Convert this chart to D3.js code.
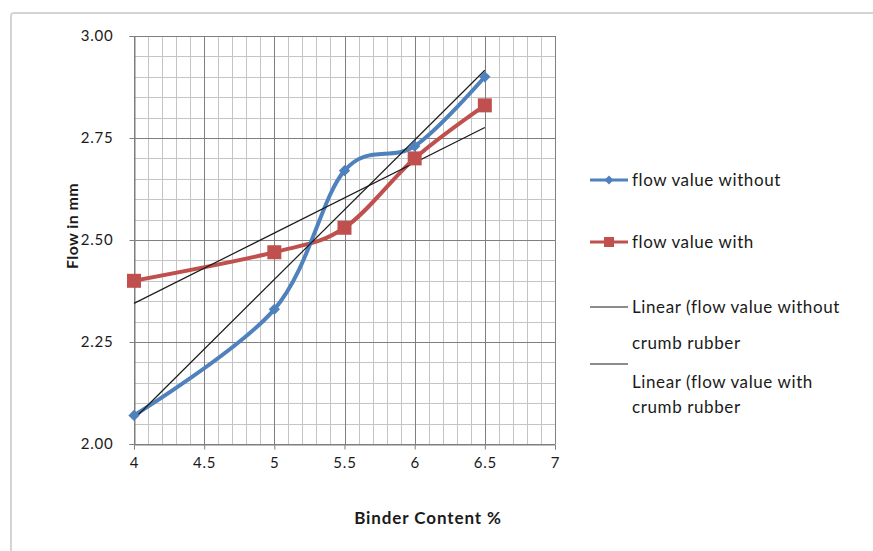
<!DOCTYPE html>
<html>
<head>
<meta charset="utf-8">
<script src="https://cdn.jsdelivr.net/npm/d3@7"></script>
<style>
  html, body { margin: 0; padding: 0; background: #fff; }
  svg text { font-family: Lato, "Open Sans", sans-serif; fill: #1a1a1a; }
</style>
</head>
<body>
<svg id="chart" width="873" height="551"></svg>
<script>
// Binder content (%) and measured flow (mm)
const binderContent = [4, 5, 5.5, 6, 6.5];
const flowWithout = [2.07, 2.33, 2.67, 2.73, 2.90];
const flowWith = [2.40, 2.47, 2.53, 2.70, 2.83];

const xTickValues = [4, 4.5, 5, 5.5, 6, 6.5, 7];
const xTickLabels = ["4", "4.5", "5", "5.5", "6", "6.5", "7"];
const yTickValues = [2.00, 2.25, 2.50, 2.75, 3.00];
const yTickLabels = ["2.00", "2.25", "2.50", "2.75", "3.00"];

const seriesNames = ["flow value without", "flow value with"];
const trendNames = ["Linear (flow value without", "Linear (flow value with"];
const trendSecondLine = "crumb rubber";

const svg = d3.select("#chart");

// chart frame
svg.append("rect")
  .attr("x", 11).attr("y", 13).attr("width", 900).attr("height", 600)
  .attr("rx", 3)
  .attr("fill", "#fff").attr("stroke", "#d4d4d4").attr("stroke-width", 2);

const plot = { left: 134, right: 555, top: 36, bottom: 444 };
const x = d3.scaleLinear().domain([4, 7]).range([plot.left, plot.right]);
const y = d3.scaleLinear().domain([2, 3]).range([plot.bottom, plot.top]);

// minor grid
const g = svg.append("g");
const minorX = d3.range(4, 7.0001, 0.1).map(v => +v.toFixed(2));
const minorY = d3.range(2, 3.0001, 0.05).map(v => +v.toFixed(2));
g.selectAll(".mx").data(minorX).join("line")
  .attr("x1", d => Math.round(x(d)) + 0.5).attr("x2", d => Math.round(x(d)) + 0.5)
  .attr("y1", plot.top).attr("y2", plot.bottom)
  .attr("stroke", "#c4c4c4").attr("stroke-width", 1);
g.selectAll(".my").data(minorY).join("line")
  .attr("y1", d => Math.round(y(d)) + 0.5).attr("y2", d => Math.round(y(d)) + 0.5)
  .attr("x1", plot.left).attr("x2", plot.right)
  .attr("stroke", "#c4c4c4").attr("stroke-width", 1);

// major grid
g.selectAll(".Mx").data(xTickValues).join("line")
  .attr("x1", d => Math.round(x(d)) + 0.5).attr("x2", d => Math.round(x(d)) + 0.5)
  .attr("y1", plot.top).attr("y2", plot.bottom)
  .attr("stroke", "#7f7f7f").attr("stroke-width", 1);
g.selectAll(".My").data(yTickValues).join("line")
  .attr("y1", d => Math.round(y(d)) + 0.5).attr("y2", d => Math.round(y(d)) + 0.5)
  .attr("x1", plot.left).attr("x2", plot.right)
  .attr("stroke", "#7f7f7f").attr("stroke-width", 1);

// axes
const xAxis = d3.axisBottom(x).tickValues(xTickValues)
  .tickFormat((d, i) => xTickLabels[i]).tickSize(5).tickPadding(8);
const yAxis = d3.axisLeft(y).tickValues(yTickValues)
  .tickFormat((d, i) => yTickLabels[i]).tickSize(5).tickPadding(16);

const xa = svg.append("g").attr("transform", `translate(0,${plot.bottom + 0.5})`).call(xAxis);
const ya = svg.append("g").attr("transform", `translate(${plot.left + 0.5},0)`).call(yAxis);
[xa, ya].forEach(a => {
  a.select(".domain").attr("stroke", "#7f7f7f");
  a.selectAll(".tick line").attr("stroke", "#7f7f7f");
  a.selectAll(".tick text").style("font-size", "15px").style("letter-spacing", "0.8px")
    .attr("fill", "#1a1a1a");
});

// axis titles
svg.append("text")
  .attr("x", 428).attr("y", 524)
  .attr("text-anchor", "middle").style("font-size", "17px").style("font-weight", "bold")
  .style("letter-spacing", "0.9px")
  .text("Binder Content %");
svg.append("text")
  .attr("transform", "translate(78,226) rotate(-90)")
  .attr("text-anchor", "middle").style("font-size", "16px").style("font-weight", "bold")
  .style("letter-spacing", "0.4px")
  .text("Flow in mm");

// least-squares trend
function linearFit(xs, ys) {
  const mx = d3.mean(xs), my = d3.mean(ys);
  const sxy = d3.sum(xs, (v, i) => (v - mx) * (ys[i] - my));
  const sxx = d3.sum(xs, v => (v - mx) * (v - mx));
  const b = sxy / sxx;
  return v => my + b * (v - mx);
}

const blue = "#4f81bd", red = "#c0504d";
const pts = vals => binderContent.map((b, i) => [b, vals[i]]);
const smooth = d3.line().x(d => x(d[0])).y(d => y(d[1])).curve(d3.curveCardinal.tension(0));
const straight = d3.line().x(d => x(d[0])).y(d => y(d[1]));

// data series
svg.append("path").datum(pts(flowWith)).attr("d", smooth)
  .attr("fill", "none").attr("stroke", red).attr("stroke-width", 4);
svg.append("path").datum(pts(flowWithout)).attr("d", smooth)
  .attr("fill", "none").attr("stroke", blue).attr("stroke-width", 4);

// trendlines
[flowWithout, flowWith].forEach(vals => {
  const f = linearFit(binderContent, vals);
  const x0 = d3.min(binderContent), x1 = d3.max(binderContent);
  svg.append("path").datum([[x0, f(x0)], [x1, f(x1)]]).attr("d", straight)
    .attr("fill", "none").attr("stroke", "#1a1a1a").attr("stroke-width", 1.2);
});

// markers
svg.selectAll(".sq").data(pts(flowWith)).join("rect")
  .attr("x", d => x(d[0]) - 7).attr("y", d => y(d[1]) - 7)
  .attr("width", 14).attr("height", 14).attr("fill", red);
svg.selectAll(".dm").data(pts(flowWithout)).join("path")
  .attr("transform", d => `translate(${x(d[0])},${y(d[1])}) rotate(45)`)
  .attr("d", d3.symbol().type(d3.symbolSquare).size(64)).attr("fill", blue);

// legend
const lg = svg.append("g");
const lx0 = 590, lx1 = 628, tx = 632;
const ly = [180, 242, 307, 364];
lg.append("line").attr("x1", lx0).attr("x2", lx1).attr("y1", ly[0]).attr("y2", ly[0])
  .attr("stroke", blue).attr("stroke-width", 3);
lg.append("path").attr("transform", `translate(${(lx0 + lx1) / 2},${ly[0]}) rotate(45)`)
  .attr("d", d3.symbol().type(d3.symbolSquare).size(40)).attr("fill", blue);
lg.append("line").attr("x1", lx0).attr("x2", lx1).attr("y1", ly[1]).attr("y2", ly[1])
  .attr("stroke", red).attr("stroke-width", 3);
lg.append("rect").attr("x", (lx0 + lx1) / 2 - 5).attr("y", ly[1] - 5)
  .attr("width", 10).attr("height", 10).attr("fill", red);
lg.append("line").attr("x1", lx0).attr("x2", lx1).attr("y1", ly[2]).attr("y2", ly[2])
  .attr("stroke", "#1a1a1a").attr("stroke-width", 1.2);
lg.append("line").attr("x1", lx0).attr("x2", lx1).attr("y1", ly[3]).attr("y2", ly[3])
  .attr("stroke", "#1a1a1a").attr("stroke-width", 1.2);

const legendText = [
  { t: seriesNames[0], y: ly[0] },
  { t: seriesNames[1], y: ly[1] },
  { t: trendNames[0], y: ly[2] },
  { t: trendSecondLine, y: 343 },
  { t: trendNames[1], y: 382 },
  { t: trendSecondLine, y: 407 }
];
lg.selectAll(".lt").data(legendText).join("text")
  .attr("x", tx).attr("y", d => d.y).attr("dy", "0.35em")
  .style("font-size", "17px").style("letter-spacing", "0.6px").text(d => d.t);
</script>
</body>
</html>
